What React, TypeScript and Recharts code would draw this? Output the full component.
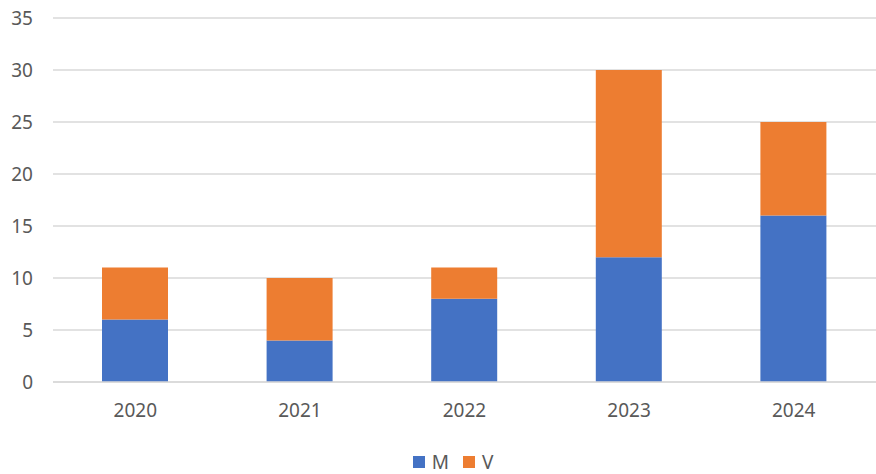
import React from 'react';
import { BarChart, Bar, XAxis, YAxis, CartesianGrid, Legend } from 'recharts';

const years = ['2020', '2021', '2022', '2023', '2024'];
const mValues = [6, 4, 8, 12, 16];
const vValues = [5, 6, 3, 18, 9];
const yTicks = [0, 5, 10, 15, 20, 25, 30, 35];

const data = years.map((y, i) => ({ year: y, M: mValues[i], V: vValues[i] }));

const font = '"Noto Sans", "Open Sans", sans-serif';
const textColor = '#595959';

const renderLegend = (props: any) => {
  const { payload } = props;
  return (
    <div style={{ display: 'flex', justifyContent: 'center', paddingLeft: 30, fontFamily: font, fontSize: 19, color: textColor }}>
      {payload.map((entry: any, i: number) => (
        <div key={i} style={{ display: 'flex', alignItems: 'center', marginRight: i === 0 ? 14 : 0 }}>
          <span style={{ display: 'inline-block', width: 12, height: 12, background: entry.color, marginRight: 7 }} />
          <span style={{ lineHeight: '24px' }}>{entry.value}</span>
        </div>
      ))}
    </div>
  );
};

export default function App() {
  return (
    <div style={{ position: 'absolute', left: 0, top: 0, width: 876, height: 474, background: '#fff' }}>
      <BarChart
        width={876}
        height={474}
        data={data}
        margin={{ top: 18, right: 0, left: 0, bottom: 0 }}
        barSize={66}
      >
        <CartesianGrid vertical={false} stroke="#d9d9d9" strokeWidth={1.5} />
        <XAxis
          dataKey="year"
          height={68}
          tickLine={false}
          axisLine={{ stroke: '#d9d9d9', strokeWidth: 1.5 }}
          tickSize={0}
          tickMargin={22}
          tick={{ fill: textColor, fontSize: 19, fontFamily: font }}
        />
        <YAxis
          width={53}
          domain={[0, 35]}
          ticks={yTicks}
          interval={0}
          tickLine={false}
          axisLine={false}
          tickSize={0}
          tickMargin={20}
          tick={{ fill: textColor, fontSize: 19, fontFamily: font }}
        />
        <Legend verticalAlign="bottom" align="center" content={renderLegend} />
        <Bar dataKey="M" stackId="a" fill="#4472C4" isAnimationActive={false} />
        <Bar dataKey="V" stackId="a" fill="#ED7D31" isAnimationActive={false} />
      </BarChart>
    </div>
  );
}
